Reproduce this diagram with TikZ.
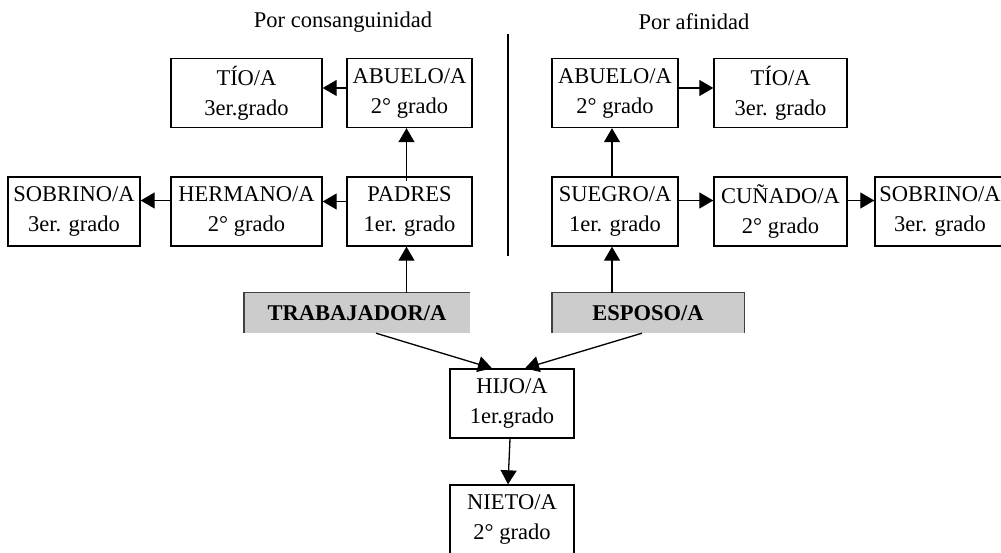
\documentclass[tikz,border=0pt]{standalone}
\usepackage{fontspec}
\setmainfont{Liberation Serif}
\usetikzlibrary{arrows.meta}

\begin{document}
\begin{tikzpicture}[x=1pt,y=-1pt,
  every node/.style={font=\fontsize{22.5}{30}\selectfont,align=center,inner sep=0pt},
  caja/.style={draw,line width=1.4pt,minimum height=69pt},
  gris/.style={fill=gray!40,minimum height=40pt,font=\fontsize{22.5}{30}\selectfont\bfseries},
  borde/.style={draw=black!75,line width=1.4pt},
  flecha/.style={line width=1.3pt,-{Triangle[length=14pt,width=16pt]}}]
\useasboundingbox (0,0) rectangle (1001,553);

% titulos y separacion
\node (tcons) at (343,22) {Por consanguinidad};
\node (tafin) at (694,22) {Por afinidad};
\draw[line width=1.3pt] (508,34) -- (508,256);

% consanguinidad
\node[caja,minimum width=151pt] (tioL) at (246.5,93) {TÍO/A\\3er.grado};
\node[caja,minimum width=125pt] (abueloL) at (409.5,93) {ABUELO/A\\2° grado};
\node[caja,minimum width=132pt] (sobrinoL) at (74,211.5) {SOBRINO/A\\3er. grado};
\node[caja,minimum width=151pt] (hermano) at (246.5,211.5) {HERMANO/A\\2° grado};
\node[caja,minimum width=125pt] (padres) at (409.5,211.5) {PADRES\\1er. grado};

% afinidad
\node[caja,minimum width=126pt] (abueloR) at (615,93) {ABUELO/A\\2° grado};
\node[caja,minimum width=133pt] (tioR) at (780.5,93) {TÍO/A\\3er. grado};
\node[caja,minimum width=126pt] (suegro) at (615,211.5) {SUEGRO/A\\1er. grado};
\node[caja,minimum width=133pt] (cunado) at (780.5,211.5) {CUÑADO/A\\2° grado};
\node[caja,minimum width=130pt] (sobrinoR) at (940,211.5) {SOBRINO/A\\3er. grado};

% trabajador, esposo y descendientes
\node[gris,minimum width=226pt] (trab) at (357,313) {TRABAJADOR/A};
\node[gris,minimum width=192pt] (esp) at (648,313) {ESPOSO/A};
\draw[borde] (trab.south west) -- (trab.north west) -- (trab.north east);
\draw[borde] (esp.south west) -- (esp.north west) -- (esp.north east) -- (esp.south east);
\node[caja,minimum width=124pt] (hijo) at (512,403.5) {HIJO/A\\1er.grado};
\node[caja,minimum width=124pt] (nieto) at (512,519.5) {NIETO/A\\2° grado};

% flechas
\foreach \a/\b/\d in {abueloL/tioL/5,padres/hermano/10,hermano/sobrinoL/11}
  \draw[flecha] ([yshift=\d pt]\a.west) -- ([yshift=\d pt]\b.east);
\foreach \a/\b/\d in {abueloR/tioR/5,suegro/cunado/11,cunado/sobrinoR/11}
  \draw[flecha] ([yshift=\d pt]\a.east) -- ([yshift=\d pt]\b.west);
\draw[flecha] ([xshift=-3pt]trab.north -| padres) -- ([xshift=-3pt]padres.south);
\draw[flecha] ([xshift=-3pt,yshift=-5pt]padres.north) -- ([xshift=-3pt]abueloL.south);
\draw[flecha] ([xshift=-3pt]esp.north -| suegro) -- ([xshift=-3pt]suegro.south);
\draw[flecha] ([xshift=-3pt]suegro.north) -- ([xshift=-3pt]abueloR.south);
\draw[flecha] ([xshift=19pt]trab.south) -- ([xshift=-20pt]hijo.north);
\draw[flecha] ([xshift=-6pt]esp.south) -- ([xshift=13pt]hijo.north);
\draw[flecha] ([xshift=-2pt]hijo.south) -- ([xshift=-4pt]nieto.north);
\end{tikzpicture}
\end{document}
